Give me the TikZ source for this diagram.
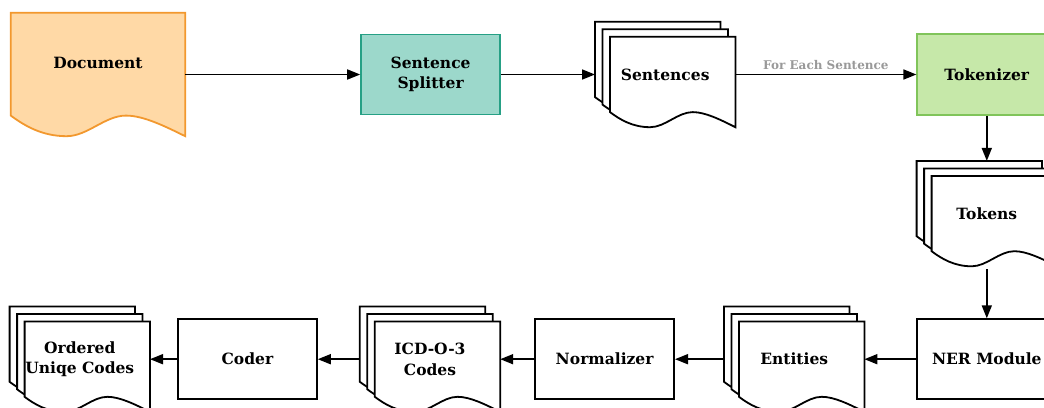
\documentclass[tikz,border=0pt]{standalone}
\usepackage{fontspec}
\setmainfont{DejaVu Serif}
\usetikzlibrary{arrows.meta, positioning, calc, backgrounds}
\definecolor{DocFill}{RGB}{255,217,166}
\definecolor{DocLine}{RGB}{242,152,46}
\definecolor{SplitFill}{RGB}{156,216,203}
\definecolor{SplitLine}{RGB}{38,160,133}
\definecolor{TokFill}{RGB}{198,232,169}
\definecolor{TokLine}{RGB}{128,196,90}
\definecolor{LabelGray}{RGB}{153,153,153}

% sheet with a wavy lower edge: #1 options, #2 north west, #3 south east
\newcommand\wavesheet[3]{%
  \path[#1] let \p1=(#2), \p2=(#3), \n1={\x2-\x1}, \n2={0.167*(\y1-\y2)} in
    (\x1,\y1) -- (\x2,\y1) -- (\x2,\y2)
    .. controls ({\x1+0.88*\n1},{\y2+0.5*\n2}) and ({\x1+0.76*\n1},{\y2+\n2}) .. ({\x1+0.66*\n1},{\y2+\n2})
    .. controls ({\x1+0.54*\n1},{\y2+\n2}) and ({\x1+0.44*\n1},\y2) .. ({\x1+0.32*\n1},\y2)
    .. controls ({\x1+0.18*\n1},\y2) and ({\x1+0.08*\n1},{\y2+0.5*\n2}) .. (\x1,{\y2+\n2})
    -- cycle;}
% three stacked sheets behind a node
\newcommand\multidoc[1]{%
  \wavesheet{sheet}{#1.north west}{$(#1.south east)+(-15pt,15pt)$}
  \wavesheet{sheet}{$(#1.north west)+(7.5pt,-7.5pt)$}{$(#1.south east)+(-7.5pt,7.5pt)$}
  \wavesheet{sheet}{$(#1.north west)+(15pt,-15pt)$}{#1.south east}}

\begin{document}
\begin{tikzpicture}[x=1pt,y=1pt,
    lbl/.style={font={\fontsize{15.5}{20.5}\selectfont\bfseries},align=center},
    box/.style={lbl,draw,line width=1.8pt,minimum width=139pt,minimum height=80pt,inner sep=0pt},
    mdoc/.style={lbl,minimum width=140pt,minimum height=105pt,inner sep=0pt},
    sheet/.style={draw,fill=white,line width=1.8pt},
    arr/.style={-{Triangle[length=13pt,width=10pt]},line width=1.7pt}
  ]
  \useasboundingbox (0,0) rectangle (1044,-407);
  % top row
  \node[inner sep=0pt,minimum width=174pt,minimum height=123pt] (doc) at (98,-74.5) {};
  \node[lbl] (doctext) at ([yshift=11.5pt]doc.center) {Document};
  \node[box,fill=SplitFill,draw=SplitLine,right=175pt of doc] (split) {Sentence\\Splitter};
  \node[mdoc,right=94pt of split] (sents) {Sentences};
  \node[box,fill=TokFill,draw=TokLine,minimum height=81pt,right=181pt of sents] (tok) {Tokenizer};
  % right column
  \node[mdoc,below=45pt of tok] (tokens) {Tokens};
  \node[box,below=52pt of tokens] (ner) {NER Module};
  % bottom row
  \node[mdoc,left=52pt of ner] (ents) {Entities};
  \node[box,left=49pt of ents] (norm) {Normalizer};
  \node[mdoc,left=34pt of norm] (icd) {ICD-O-3\\Codes};
  \node[box,left=42pt of icd] (coder) {Coder};
  \node[mdoc,left=27pt of coder] (ordered) {Ordered\\Uniqe Codes};

  \begin{scope}[on background layer]
    \wavesheet{draw=DocLine,fill=DocFill,line width=1.8pt}{doc.north west}{doc.south east}
    \multidoc{sents}
    \multidoc{tokens}
    \multidoc{ents}
    \multidoc{icd}
    \multidoc{ordered}
  \end{scope}

  \draw[arr] (doc) -- (split);
  \draw[arr] (split) -- (sents);
  \draw[arr] (sents) -- node[above=1pt,font={\fontsize{12}{14}\selectfont\bfseries},text=LabelGray] (each) {For Each Sentence} (tok);
  \draw[arr] (tok) -- (tokens);
  \draw[arr,shorten <=3pt] (tokens) -- (ner);
  \draw[arr] (ner) -- (ents);
  \draw[arr] (ents) -- (norm);
  \draw[arr] (norm) -- (icd);
  \draw[arr] (icd) -- (coder);
  \draw[arr] (coder) -- (ordered);
\end{tikzpicture}
\end{document}
